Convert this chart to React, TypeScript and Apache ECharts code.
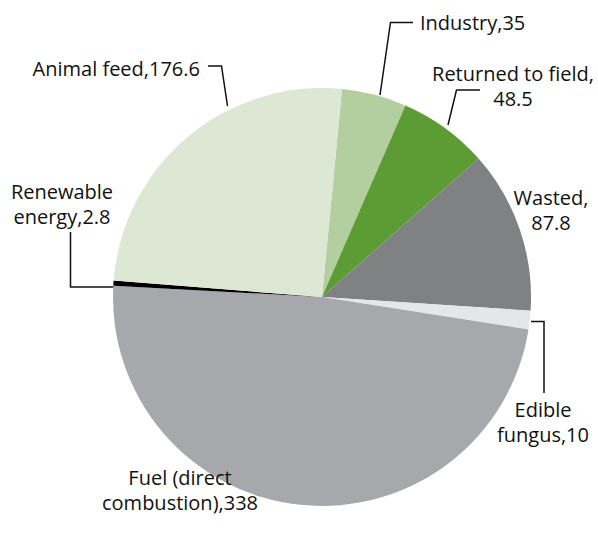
import React, { useEffect, useRef } from "react";
import * as echarts from "echarts";

const categories = [
  "Industry",
  "Returned to field",
  "Wasted",
  "Edible fungus",
  "Fuel (direct combustion)",
  "Renewable energy",
  "Animal feed",
];
const values = [35, 48.5, 87.8, 10, 338, 2.8, 176.6];
// label text split points (first line / second line)
const labelLines: string[][] = [
  ["Industry,35"],
  ["Returned to field,", "48.5"],
  ["Wasted,", "87.8"],
  ["Edible", "fungus,10"],
  ["Fuel (direct", "combustion),338"],
  ["Renewable", "energy,2.8"],
  ["Animal feed,176.6"],
];
const colors = ["#b3cfa0", "#5d9b34", "#808183", "#e5e6e8", "#a7a8ab", "#000000", "#dde8d4"];

// label layout (position, alignment, leader line points)
const layouts: any[] = [
  { x: 420, y: 22, align: "left", line: [[380, 95], [390.5, 22.5], [413, 22.5]] },
  { x: 513, y: 86, align: "center", line: [[448, 125], [456.5, 90], [480, 90]] },
  { x: 551, y: 210, align: "center", line: null },
  { x: 543, y: 422, align: "center", line: [[531, 321.5], [544, 321.5], [544, 393]] },
  { x: 180, y: 490, align: "center", line: null },
  { x: 62, y: 204, align: "center", line: [[114, 287], [70.5, 287], [70.5, 232]] },
  { x: 200, y: 68, align: "right", line: [[227.5, 106], [221.5, 66], [208, 66]] },
];

export default function App() {
  const ref = useRef<HTMLDivElement>(null);
  useEffect(() => {
    if (!ref.current) return;
    const chart = echarts.init(ref.current, undefined, { renderer: "svg" });
    chart.setOption({
      animation: false,
      backgroundColor: "#ffffff",
      series: [
        {
          type: "pie",
          center: [322, 297],
          radius: 209,
          startAngle: 84.5,
          clockwise: true,
          avoidLabelOverlap: false,
          itemStyle: { borderWidth: 0 },
          label: {
            show: true,
            color: "#111111",
            fontFamily: "Open Sans",
            fontSize: 20,
            lineHeight: 25,
            formatter: (p: any) => labelLines[p.dataIndex].join("\n"),
          },
          labelLine: {
            show: true,
            lineStyle: { color: "#111111", width: 1.5 },
          },
          labelLayout: (params: any) => {
            const l = layouts[params.dataIndex];
            const out: any = {
              x: l.x,
              y: l.y,
              align: l.align,
              verticalAlign: "middle",
            };
            if (l.line) out.labelLinePoints = l.line;
            return out;
          },
          data: categories.map((name, i) => ({
            name,
            value: values[i],
            itemStyle: { color: colors[i] },
            labelLine: { show: layouts[i].line !== null },
            label: { align: layouts[i].align },
          })),
        },
      ],
    });
    return () => chart.dispose();
  }, []);
  return (
    <div
      ref={ref}
      style={{ position: "fixed", left: 0, top: 0, width: 598, height: 539 }}
    />
  );
}
